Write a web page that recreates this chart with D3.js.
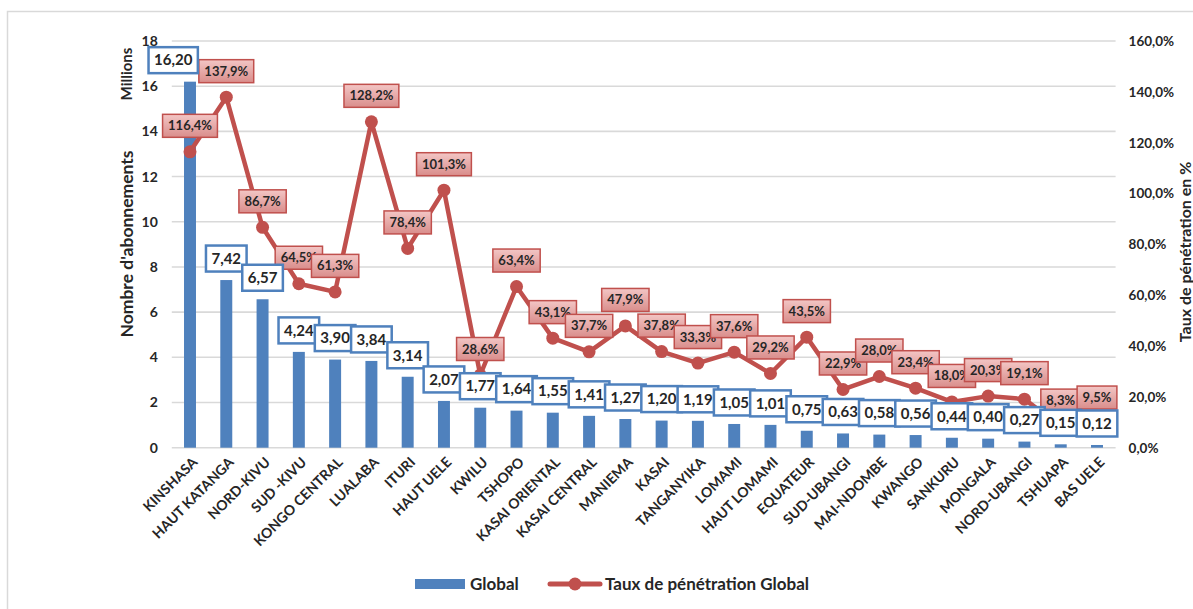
<!DOCTYPE html>
<html>
<head>
<meta charset="utf-8">
<script src="https://cdn.jsdelivr.net/npm/d3@7"></script>
<style>
  html, body { margin: 0; padding: 0; background: #fff; }
  svg { display: block; font-family: Lato, "Open Sans", "Liberation Sans", sans-serif; }
</style>
</head>
<body>
<svg id="chart" width="1193" height="609"></svg>
<script>
const categories = ["KINSHASA","HAUT KATANGA","NORD-KIVU","SUD -KIVU","KONGO CENTRAL","LUALABA","ITURI","HAUT UELE","KWILU","TSHOPO","KASAI ORIENTAL","KASAI CENTRAL","MANIEMA","KASAI","TANGANYIKA","LOMAMI","HAUT LOMAMI","EQUATEUR","SUD-UBANGI","MAI-NDOMBE","KWANGO","SANKURU","MONGALA","NORD-UBANGI","TSHUAPA","BAS UELE"];
const abonnements = [16.20,7.42,6.57,4.24,3.90,3.84,3.14,2.07,1.77,1.64,1.55,1.41,1.27,1.20,1.19,1.05,1.01,0.75,0.63,0.58,0.56,0.44,0.40,0.27,0.15,0.12];
const penetration = [116.4,137.9,86.7,64.5,61.3,128.2,78.4,101.3,28.6,63.4,43.1,37.7,47.9,37.8,33.3,37.6,29.2,43.5,22.9,28.0,23.4,18.0,20.3,19.1,8.3,9.5];
const leftTicks = [0,2,4,6,8,10,12,14,16,18];
const rightTicks = [0,20,40,60,80,100,120,140,160];
const seriesNames = ["Global","Taux de pénétration Global"];
const leftTitle = "Nombre d'abonnements";
const leftUnit = "Millions";
const rightTitle = "Taux de pénétration en %";

const BLUE = "#4F81BD", RED = "#C0504D", GRID = "#d9d9d9", TXT = "#262626";
const svg = d3.select("#chart");

const defs = svg.append("defs");
const grad = defs.append("linearGradient").attr("id","redgrad").attr("x1",0).attr("y1",0).attr("x2",0).attr("y2",1);
grad.append("stop").attr("offset","0%").attr("stop-color","#f3c6c5");
grad.append("stop").attr("offset","100%").attr("stop-color","#d98d8b");

// outer frame
svg.append("path").attr("d","M7.5,609 L7.5,11.5 L1193,11.5").attr("fill","none").attr("stroke","#d9d9d9").attr("stroke-width",1.5);

const plotL = 171.8, plotR = 1115.6, plotT = 41, plotB = 447.7;
const x = d3.scalePoint().domain(categories).range([190, 1097]);
const step = x.step();
const y = d3.scaleLinear().domain([0,18]).range([plotB, plotT]);
const yR = d3.scaleLinear().domain([0,160]).range([plotB, plotT]);

const fmt2 = v => d3.format(".2f")(v).replace(".", ",");
const fmtP = v => d3.format(".1f")(v).replace(".", ",") + "%";

// gridlines
svg.append("g").selectAll("line").data(leftTicks).join("line")
  .attr("x1", plotL).attr("x2", plotR)
  .attr("y1", d => y(d)).attr("y2", d => y(d))
  .attr("stroke", GRID).attr("stroke-width", 1.6);

// left axis
const gL = svg.append("g").attr("transform", `translate(${plotL},0)`)
  .call(d3.axisLeft(y).tickValues(leftTicks).tickSize(0).tickPadding(14).tickFormat(d3.format("d")));
gL.select(".domain").remove();
gL.selectAll("text").attr("font-size", 14).attr("font-weight", "bold").attr("fill", TXT).attr("font-family","Lato, sans-serif");

// right axis
const gR = svg.append("g").attr("transform", `translate(${plotR},0)`)
  .call(d3.axisRight(yR).tickValues(rightTicks).tickSize(0).tickPadding(13).tickFormat(fmtP));
gR.select(".domain").remove();
gR.selectAll("text").attr("font-size", 13.5).attr("font-weight", "bold").attr("fill", TXT).attr("font-family","Lato, sans-serif");

// axis titles
svg.append("text").attr("transform", "translate(133,244) rotate(-90)")
  .attr("text-anchor","middle").attr("font-size",17.5).attr("font-weight","bold").attr("fill",TXT).text(leftTitle);
svg.append("text").attr("transform", "translate(132,74) rotate(-90)")
  .attr("text-anchor","middle").attr("font-size",15).attr("font-weight","bold").attr("fill",TXT).text(leftUnit);
svg.append("text").attr("transform", "translate(1191,252) rotate(-90)")
  .attr("text-anchor","middle").attr("font-size",16).attr("font-weight","bold").attr("fill",TXT).text(rightTitle);

// x labels
svg.append("g").selectAll("text").data(categories).join("text")
  .attr("transform", d => `translate(${x(d)+5},${plotB+12}) rotate(-45)`)
  .attr("text-anchor","end").attr("dy","0.35em")
  .attr("font-size",14).attr("font-weight","bold").attr("fill",TXT).text(d => d);

// bars
const bw = step * 0.33;
const data = categories.map((c,i) => ({c, v: abonnements[i], p: penetration[i]}));
svg.append("g").selectAll("rect").data(data).join("rect")
  .attr("x", d => x(d.c) - bw/2).attr("width", bw)
  .attr("y", d => y(d.v)).attr("height", d => plotB - y(d.v))
  .attr("fill", BLUE);

// line
svg.append("path").datum(data)
  .attr("d", d3.line().x(d => x(d.c)).y(d => yR(d.p)))
  .attr("fill","none").attr("stroke",RED).attr("stroke-width",4.5).attr("stroke-linejoin","round");
svg.append("g").selectAll("circle").data(data).join("circle")
  .attr("cx", d => x(d.c)).attr("cy", d => yR(d.p)).attr("r", 6.5).attr("fill", RED);

// line labels
const lineBoxes = [];
const gLL = svg.append("g");
data.forEach(d => {
  const cx = x(d.c), cy = yR(d.p) - 26;
  const g = gLL.append("g");
  const r = g.append("rect");
  const t = g.append("text").attr("x", cx).attr("y", cy).attr("dy","0.35em")
    .attr("text-anchor","middle").attr("font-size",13).attr("font-weight","bold").attr("fill",TXT).text(fmtP(d.p));
  const w = t.node().getComputedTextLength() + 11, h = 23;
  r.attr("x", cx - w/2).attr("y", cy - h/2).attr("width", w).attr("height", h)
   .attr("fill","url(#redgrad)").attr("stroke",RED).attr("stroke-width",1.5);
  lineBoxes.push({x0: cx - w/2, x1: cx + w/2, y0: cy - h/2, y1: cy + h/2});
});

// bar labels (nudged left if they collide with a line label)
const gBL = svg.append("g");
data.forEach(d => {
  let cx = x(d.c);
  const cy = y(d.v) - 21.5;
  const g = gBL.append("g");
  const r = g.append("rect");
  const t = g.append("text").attr("y", cy).attr("dy","0.35em")
    .attr("text-anchor","middle").attr("font-size",15).attr("font-weight","bold").attr("fill",TXT).text(fmt2(d.v));
  const w = t.node().getComputedTextLength() + 11, h = 26;
  lineBoxes.forEach(b => {
    const yo = Math.min(cy + h/2, b.y1) - Math.max(cy - h/2, b.y0);
    const xo = (cx + w/2) - b.x0;
    if (yo > 8 && xo > 0 && cx < b.x0 + (b.x1-b.x0)/2 && (cx - w/2) < b.x1) cx -= xo + 1;
  });
  t.attr("x", cx);
  r.attr("x", cx - w/2).attr("y", cy - h/2).attr("width", w).attr("height", h)
   .attr("fill","#fff").attr("stroke",BLUE).attr("stroke-width",2.5);
});

// legend
const lg = svg.append("g");
lg.append("rect").attr("x",415).attr("y",579).attr("width",50).attr("height",10).attr("fill",BLUE);
lg.append("text").attr("x",470).attr("y",584).attr("dy","0.35em").attr("font-size",17).attr("font-weight","bold").attr("fill",TXT).text(seriesNames[0]);
lg.append("line").attr("x1",550).attr("x2",600).attr("y1",584).attr("y2",584).attr("stroke",RED).attr("stroke-width",5).attr("stroke-linecap","round");
lg.append("circle").attr("cx",575).attr("cy",584).attr("r",6.5).attr("fill",RED);
lg.append("text").attr("x",605).attr("y",584).attr("dy","0.35em").attr("font-size",17).attr("font-weight","bold").attr("fill",TXT).text(seriesNames[1]);
</script>
</body>
</html>
